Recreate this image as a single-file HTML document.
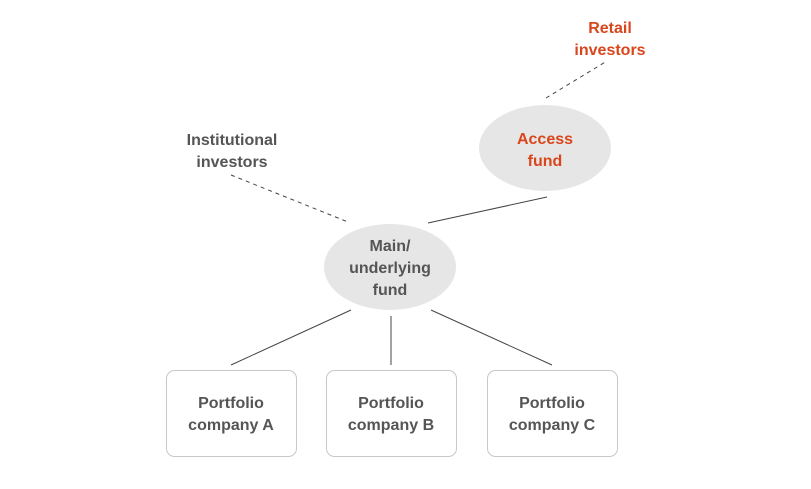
<!DOCTYPE html>
<html><head><style>
html,body{margin:0;padding:0;background:#fff;}
svg text{font-family:"Liberation Sans",sans-serif;font-weight:bold;font-size:16px;text-anchor:middle;}
</style></head><body>
<svg width="811" height="484" viewBox="0 0 811 484" xmlns="http://www.w3.org/2000/svg">
<ellipse cx="545" cy="148" rx="66" ry="43" fill="#e6e6e6"/>
<ellipse cx="390" cy="267" rx="66" ry="43" fill="#e6e6e6"/>
<g stroke="#444" stroke-width="1" fill="none">
<line x1="546" y1="98" x2="607" y2="61" stroke-dasharray="4,4"/>
<line x1="231" y1="175" x2="348" y2="222" stroke-dasharray="4,4"/>
<line x1="428" y1="223" x2="547" y2="197"/>
<line x1="351" y1="310" x2="231" y2="365"/>
<line x1="391" y1="316" x2="391" y2="365"/>
<line x1="431" y1="310" x2="552" y2="365"/>
</g>
<g fill="#fff" stroke="#c8c8c8" stroke-width="1">
<rect x="166.5" y="370.5" width="130" height="86" rx="8"/>
<rect x="326.5" y="370.5" width="130" height="86" rx="8"/>
<rect x="487.5" y="370.5" width="130" height="86" rx="8"/>
</g>
<g fill="#d9461c">
<text x="610" y="33">Retail</text>
<text x="610" y="55">investors</text>
<text x="545" y="144">Access</text>
<text x="545" y="166">fund</text>
</g>
<g fill="#555">
<text x="232" y="145">Institutional</text>
<text x="232" y="167">investors</text>
<text x="390" y="251">Main/</text>
<text x="390" y="273">underlying</text>
<text x="390" y="295">fund</text>
<text x="231" y="408">Portfolio</text>
<text x="231" y="430">company A</text>
<text x="391" y="408">Portfolio</text>
<text x="391" y="430">company B</text>
<text x="552" y="408">Portfolio</text>
<text x="552" y="430">company C</text>
</g>
</svg>
</body></html>
